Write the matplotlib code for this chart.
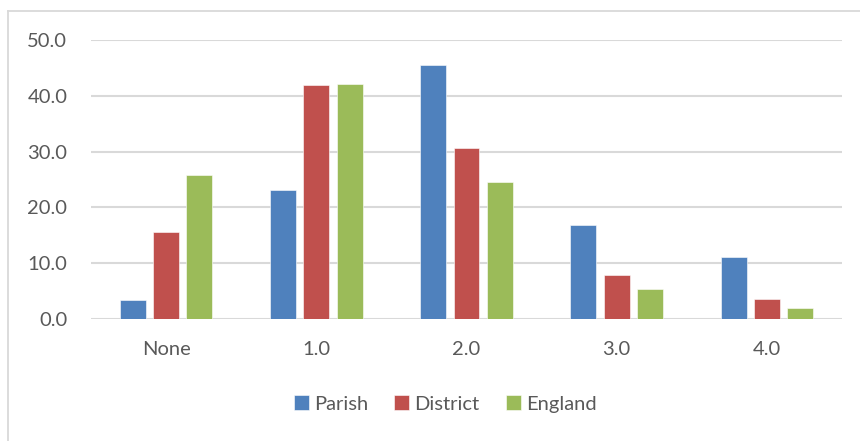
import matplotlib
matplotlib.use("Agg")
import matplotlib.pyplot as plt
from matplotlib.lines import Line2D
import numpy as np

categories = ["None", "1.0", "2.0", "3.0", "4.0"]
parish = [3.4, 23.1, 45.5, 16.8, 11.1]
district = [15.6, 41.9, 30.7, 7.9, 3.6]
england = [25.8, 42.1, 24.6, 5.4, 1.9]
series_names = ["Parish", "District", "England"]
colors = ["#4F81BD", "#C0504D", "#9BBB59"]
yticks = [0, 10, 20, 30, 40, 50]

plt.rcParams["font.family"] = ["Lato", "DejaVu Sans"]
text_color = "#595959"
grid_color = "#D9D9D9"
fs = 14.5

W, H = 860, 441
fig = plt.figure(figsize=(W / 100, H / 100), dpi=100)
ax = fig.add_axes([91 / W, (H - 319) / H, (842 - 91) / W, (319 - 40) / H])

x = np.arange(len(categories))
bw = 0.173
step = 0.222
for i, (vals, name, col) in enumerate(zip([parish, district, england], series_names, colors)):
    ax.bar(x + (i - 1) * step, vals, width=bw, color=col, label=name,
           edgecolor="white", linewidth=0.4, zorder=3)

ax.set_xlim(-0.5, len(categories) - 0.5)
ax.set_ylim(0, 50)
ax.set_yticks(yticks)
ax.set_yticklabels([f"{v:.1f}" for v in yticks])
ax.set_xticks(x)
ax.set_xticklabels(categories)
ax.tick_params(axis="both", length=0, labelsize=fs, colors=text_color)
ax.tick_params(axis="y", pad=17)
ax.tick_params(axis="x", pad=16)
ax.yaxis.grid(True, color=grid_color, linewidth=1.5, zorder=0)
for s in ax.spines.values():
    s.set_visible(False)

fig.legend(loc="center", bbox_to_anchor=(445 / W, 1 - 404 / H), ncol=3,
           frameon=False, fontsize=fs, labelcolor=text_color,
           handlelength=0.75, handleheight=0.75, handletextpad=0.25,
           columnspacing=1.3)

# light frame on the top and left edges of the chart area
fig.add_artist(Line2D([8 / W, 1], [1 - 11 / H, 1 - 11 / H], color=grid_color,
                      linewidth=1.3, transform=fig.transFigure))
fig.add_artist(Line2D([8 / W, 8 / W], [0, 1 - 11 / H], color=grid_color,
                      linewidth=1.3, transform=fig.transFigure))

fig.savefig("out.png", dpi=100, facecolor="white")
